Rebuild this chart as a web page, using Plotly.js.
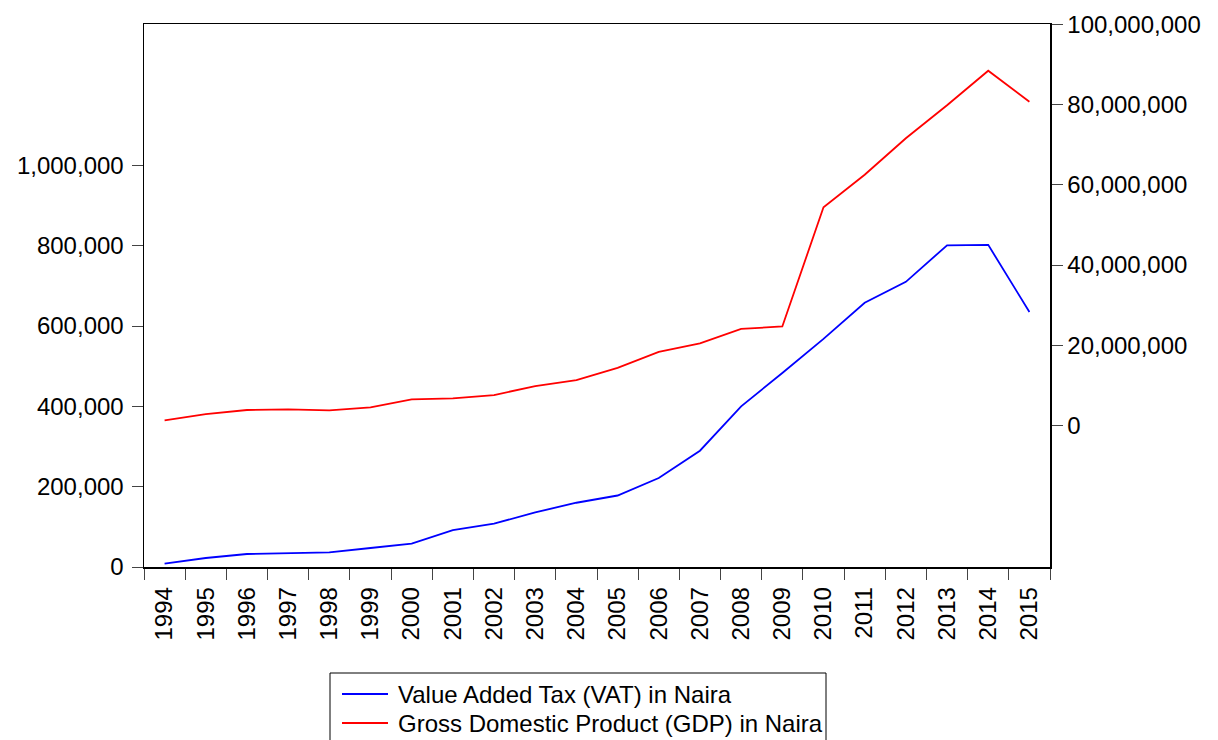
<!DOCTYPE html>
<html>
<head>
<meta charset="utf-8">
<script src="https://cdn.plot.ly/plotly-3.0.1.min.js"></script>
<style>html,body{margin:0;padding:0;background:#fff;}#chart{width:1218px;height:740px;}</style>
</head>
<body>
<div id="chart"></div>
<script>
const years = ["1994","1995","1996","1997","1998","1999","2000","2001","2002","2003","2004","2005","2006","2007","2008","2009","2010","2011","2012","2013","2014","2015"];
const vatNaira = [8200, 22400, 32400, 34900, 36400, 47300, 58000, 92000, 108000, 136000, 160000, 178000, 221600, 289600, 400000, 483000, 568000, 658000, 710000, 801000, 802000, 635000];
const gdpNaira = [1340000, 2900000, 3900000, 4070000, 3830000, 4570000, 6560000, 6800000, 7630000, 9860000, 11350000, 14400000, 18400000, 20500000, 24100000, 24700000, 54400000, 62500000, 71600000, 79800000, 88400000, 80700000];
const leftTicks = [0, 200000, 400000, 600000, 800000, 1000000];
const rightTicks = [0, 20000000, 40000000, 60000000, 80000000, 100000000];
const seriesNames = ["Value Added Tax (VAT) in Naira", "Gross Domestic Product (GDP) in Naira"];
const seriesColors = ["#0000FF", "#FF0000"];

const FONT = "Liberation Sans, Arial, Helvetica, sans-serif";
const FS = 24;
const W = 1218, H = 740;
const M = {l: 144, r: 168, t: 24, b: 173};
const PW = W - M.l - M.r, PH = H - M.t - M.b;
// pixel -> paper coordinate helpers (for the hand-drawn legend box)
const px = v => (v - M.l) / PW;
const py = v => (H - M.b - v) / PH;

const traces = [
  {x: years, y: vatNaira, type: "scatter", mode: "lines", name: seriesNames[0],
   line: {color: seriesColors[0], width: 1.8}, yaxis: "y"},
  {x: years, y: gdpNaira, type: "scatter", mode: "lines", name: seriesNames[1],
   line: {color: seriesColors[1], width: 1.8}, yaxis: "y2"}
];

const legendRows = [694, 723];
const shapes = [
  {type: "rect", xref: "paper", yref: "paper", x0: px(330), x1: px(826), y0: py(673), y1: py(770),
   line: {color: "#000", width: 1}, fillcolor: "rgba(0,0,0,0)"}
];
const annotations = [];
seriesNames.forEach((nm, i) => {
  shapes.push({type: "line", xref: "paper", yref: "paper", x0: px(342), x1: px(388),
    y0: py(legendRows[i]), y1: py(legendRows[i]), line: {color: seriesColors[i], width: 1.8}});
  annotations.push({xref: "paper", yref: "paper", x: px(396), y: py(legendRows[i]),
    xanchor: "left", yanchor: "middle", showarrow: false, text: nm,
    font: {family: FONT, size: FS, color: "#000"}});
});

const layout = {
  width: W, height: H,
  margin: M,
  paper_bgcolor: "#fff", plot_bgcolor: "#fff",
  font: {family: FONT, size: FS, color: "#000"},
  showlegend: false,
  shapes: shapes, annotations: annotations,
  xaxis: {type: "category", range: [-0.5, 21.5], tickangle: -90, automargin: false,
    ticks: "outside", ticklen: 11, tickcolor: "#444", tickwidth: 1, ticklabelstandoff: 9,
    tickson: "boundaries", showline: true, linecolor: "#000", linewidth: 1.5,
    mirror: true, showgrid: false, zeroline: false,
    tickfont: {family: FONT, size: FS, color: "#000"}},
  yaxis: {range: [0, 1352000], tickvals: leftTicks, tickformat: ",", automargin: false,
    ticks: "outside", ticklen: 11, tickcolor: "#444", tickwidth: 1, ticklabelstandoff: 3,
    showline: true, linecolor: "#000", linewidth: 1.5, showgrid: false, zeroline: false,
    tickfont: {family: FONT, size: FS, color: "#000"}},
  yaxis2: {overlaying: "y", side: "right", range: [-35.2e6, 100.05e6], tickvals: rightTicks, automargin: false,
    tickformat: ",", ticks: "outside", ticklen: 11, tickcolor: "#444", tickwidth: 1,
    showline: true, linecolor: "#000", linewidth: 1.5, showgrid: false, zeroline: false,
    tickfont: {family: FONT, size: FS, color: "#000"}}
};
Plotly.newPlot("chart", traces, layout, {staticPlot: true, displayModeBar: false});
</script>
</body>
</html>
